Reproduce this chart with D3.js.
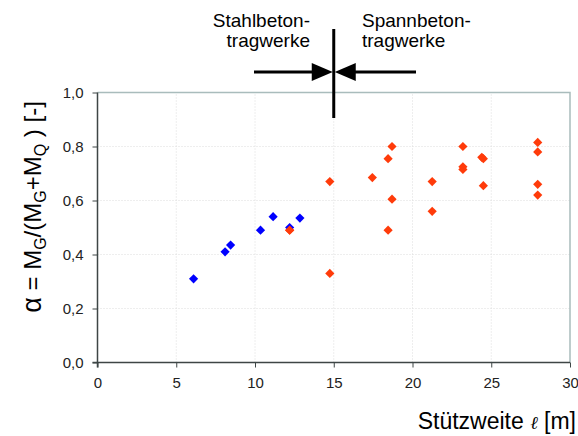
<!DOCTYPE html>
<html><head><meta charset="utf-8">
<script src="https://cdn.jsdelivr.net/npm/d3@7"></script>
<style>body{margin:0;background:#fff;}svg{display:block;font-family:"Liberation Sans",Arial,sans-serif;}</style>
</head><body>
<svg id="c" width="578" height="436"></svg>
<script>
const stahlSpan = [6.1, 8.1, 8.45, 10.35, 11.15, 12.2, 12.85];
const stahlAlpha = [0.31, 0.41, 0.435, 0.49, 0.54, 0.50, 0.535];
const spannSpan = [12.2, 14.75, 14.75, 17.45, 18.45, 18.7, 18.7, 18.45, 21.25, 21.25, 23.2, 23.2, 23.2, 24.4, 24.5, 24.5, 27.95, 27.95, 27.95, 27.95];
const spannAlpha = [0.49, 0.67, 0.33, 0.685, 0.755, 0.80, 0.605, 0.49, 0.67, 0.56, 0.80, 0.725, 0.715, 0.76, 0.755, 0.655, 0.815, 0.78, 0.66, 0.62];
const xTicks = [0, 5, 10, 15, 20, 25, 30];
const yTicks = [0, 0.2, 0.4, 0.6, 0.8, 1.0];
const boundary = 15;

const svg = d3.select("#c");
const x = d3.scaleLinear().domain([0, 30]).range([97.5, 570]);
const y = d3.scaleLinear().domain([0, 1]).range([362.5, 92.5]);
const fmt = d => d3.format(".1f")(d).replace(".", ",");

// grid
svg.append("g").selectAll("line").data(yTicks.slice(1, -1)).join("line")
  .attr("x1", x(0)).attr("x2", x(30)).attr("y1", d => y(d)).attr("y2", d => y(d))
  .attr("stroke", "#dcdcdc").attr("stroke-dasharray", "1,2");
svg.append("g").selectAll("line").data(xTicks.slice(1, -1)).join("line")
  .attr("y1", y(0)).attr("y2", y(1)).attr("x1", d => x(d)).attr("x2", d => x(d))
  .attr("stroke", "#dcdcdc").attr("stroke-dasharray", "1,2");

// frame top/right
svg.append("path").attr("d", `M${x(0)},${y(1)}H${x(30)}V${y(0)}`)
  .attr("fill", "none").attr("stroke", "#a9bcbc").attr("stroke-width", 1.5);

// axes
const xAxis = svg.append("g").attr("transform", `translate(0,${y(0)})`)
  .call(d3.axisBottom(x).tickValues(xTicks).tickSize(5).tickPadding(10).tickFormat(d3.format("d")));
const yAxis = svg.append("g").attr("transform", `translate(${x(0)},0)`)
  .call(d3.axisLeft(y).tickValues(yTicks).tickSize(5).tickPadding(9).tickFormat(fmt));
[xAxis, yAxis].forEach(a => {
  a.select(".domain").attr("stroke", "#3e4646").attr("stroke-width", 1.5);
  a.selectAll(".tick line").attr("stroke", "#3e4646");
  a.selectAll("text").attr("font-size", 15).attr("fill", "#222")
    .attr("font-family", "Liberation Sans, Arial, sans-serif");
});
xAxis.select(".domain").attr("d", `M${x(0)},5V0H${x(30)}`);
yAxis.select(".domain").attr("d", `M-5,${y(0)}H0V${y(1)}`);

// markers (square diamonds)
const r = 4.6;
const diamond = `M0,${-r}L${r},0L0,${r}L${-r},0Z`;
svg.append("g").selectAll("path").data(spannSpan.map((s, i) => [s, spannAlpha[i]])).join("path")
  .attr("d", diamond).attr("transform", d => `translate(${x(d[0])},${y(d[1])})`).attr("fill", "#ff3b0a");
svg.append("g").selectAll("path").data(stahlSpan.map((s, i) => [s, stahlAlpha[i]])).join("path")
  .attr("d", diamond).attr("transform", d => `translate(${x(d[0])},${y(d[1])})`).attr("fill", "#0000ff");
svg.append("path").attr("d", diamond)
  .attr("transform", `translate(${x(spannSpan[0])},${y(spannAlpha[0])})`).attr("fill", "#ff3b0a");

// annotation: boundary line and arrows
const bx = x(boundary);
svg.append("line").attr("x1", bx).attr("x2", bx).attr("y1", 29).attr("y2", 118)
  .attr("stroke", "#000").attr("stroke-width", 3);
const ay = 72;
svg.append("line").attr("x1", 254).attr("x2", bx - 18).attr("y1", ay).attr("y2", ay).attr("stroke", "#000").attr("stroke-width", 3);
svg.append("line").attr("x1", 416).attr("x2", bx + 18).attr("y1", ay).attr("y2", ay).attr("stroke", "#000").attr("stroke-width", 3);
svg.append("path").attr("d", `M${bx - 1},${ay} L${bx - 22},${ay - 9} L${bx - 22},${ay + 9} Z`).attr("fill", "#000");
svg.append("path").attr("d", `M${bx + 1},${ay} L${bx + 22},${ay - 9} L${bx + 22},${ay + 9} Z`).attr("fill", "#000");

const lt = svg.append("text").attr("text-anchor", "end").attr("font-size", 19).attr("fill", "#000");
lt.append("tspan").attr("x", 310).attr("y", 27).text("Stahlbeton-");
lt.append("tspan").attr("x", 310).attr("y", 47).text("tragwerke");
const rt = svg.append("text").attr("text-anchor", "start").attr("font-size", 19).attr("fill", "#000");
rt.append("tspan").attr("x", 362).attr("y", 27).text("Spannbeton-");
rt.append("tspan").attr("x", 362).attr("y", 47).text("tragwerke");

// axis titles
const xt = svg.append("text").attr("x", 576).attr("y", 429).attr("text-anchor", "end")
  .attr("font-size", 23).attr("fill", "#000");
xt.append("tspan").text("Stützweite ");
xt.append("tspan").attr("font-style", "italic").attr("font-family", "DejaVu Serif, serif").attr("font-size", 18).text("ℓ");
xt.append("tspan").text(" [m]");

const yt = svg.append("text").attr("transform", "translate(41,207) rotate(-90)")
  .attr("text-anchor", "middle").attr("font-size", 24).attr("fill", "#000");
yt.append("tspan").attr("font-size", 27).text("α");
yt.append("tspan").text(" = M");
yt.append("tspan").attr("font-size", 16).attr("dy", 5).text("G");
yt.append("tspan").attr("dy", -5).text("/(M");
yt.append("tspan").attr("font-size", 16).attr("dy", 5).text("G");
yt.append("tspan").attr("dy", -5).text("+M");
yt.append("tspan").attr("font-size", 16).attr("dy", 5).text("Q");
yt.append("tspan").attr("dy", -5).text(" ) [-]");
</script>
</body></html>
